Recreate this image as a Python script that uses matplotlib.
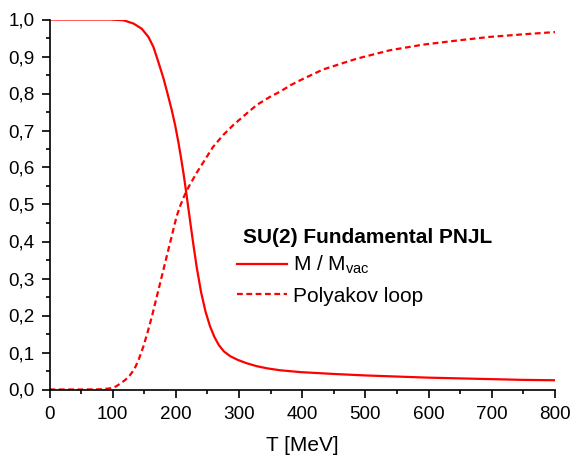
import matplotlib
matplotlib.use("Agg")
import matplotlib.pyplot as plt
from matplotlib.ticker import MultipleLocator, FuncFormatter

plt.rcParams['font.family'] = ['Liberation Sans', 'DejaVu Sans']
plt.rcParams['mathtext.fontset'] = 'custom'
plt.rcParams['mathtext.rm'] = 'Liberation Sans'
plt.rcParams['mathtext.it'] = 'Liberation Sans'

# Data
T_m = [0, 50, 96, 117, 133, 146, 156.5, 164.4, 172.3, 180.2, 186, 193.5, 199,
       204, 208, 212, 216, 220, 224, 228, 233, 240, 247, 254, 261, 268, 276,
       286, 298, 312, 328, 345, 365, 397, 450, 500, 550, 600, 650, 700, 750, 800]
M_m = [1.0, 1.0, 1.0, 0.998, 0.989, 0.975, 0.953, 0.926, 0.885, 0.842, 0.805,
       0.755, 0.713, 0.668, 0.628, 0.585, 0.537, 0.487, 0.437, 0.388, 0.33,
       0.262, 0.21, 0.171, 0.142, 0.12, 0.103, 0.09, 0.08, 0.071, 0.063, 0.057,
       0.052, 0.047, 0.042, 0.038, 0.035, 0.032, 0.030, 0.028, 0.026, 0.025]

T_p = [0, 50, 80, 96, 105, 112, 120, 127, 134, 141, 148.5, 155, 162, 175, 188,
       201, 207, 213, 220, 233, 249, 259, 275, 291, 312, 328, 349, 365, 381,
       397, 433, 486, 539, 591, 644, 697, 750, 800]
P_p = [0, 0, 0.0005, 0.003, 0.008, 0.016, 0.026, 0.038, 0.054, 0.08, 0.116,
       0.153, 0.197, 0.287, 0.377, 0.467, 0.497, 0.522, 0.547, 0.586, 0.629,
       0.656, 0.688, 0.715, 0.746, 0.769, 0.791, 0.805, 0.822, 0.836, 0.865,
       0.894, 0.917, 0.932, 0.943, 0.953, 0.960, 0.966]

legend_title = "SU(2) Fundamental PNJL"
label_m = r"M / M$_{\mathregular{vac}}$"
label_p = "Polyakov loop"

W, H = 574, 458
fig = plt.figure(figsize=(W / 100, H / 100), dpi=100)
ax = fig.add_axes([49.5 / W, (H - 389.5) / H, 505.5 / W, 370 / H])

ax.plot(T_m, M_m, color='#ff0000', lw=1.6, label=label_m,
        solid_joinstyle='round')
ax.plot(T_p, P_p, color='#ff0000', lw=1.6, ls=(0, (2.6, 1.6)), label=label_p,
        dash_joinstyle='round')

ax.set_xlim(0, 800)
ax.set_ylim(0, 1.0)
ax.xaxis.set_major_locator(MultipleLocator(100))
ax.xaxis.set_minor_locator(MultipleLocator(50))
ax.yaxis.set_major_locator(MultipleLocator(0.1))
ax.yaxis.set_minor_locator(MultipleLocator(0.05))
ax.yaxis.set_major_formatter(FuncFormatter(lambda v, p: f"{v:.1f}".replace('.', ',')))

for s in ['top', 'right']:
    ax.spines[s].set_visible(False)
for s in ['left', 'bottom']:
    ax.spines[s].set_linewidth(1.2)
ax.tick_params(which='major', direction='out', length=6, width=1.2, labelsize=13.6)
ax.tick_params(which='minor', direction='out', length=3, width=1.2)
ax.tick_params(axis='x', which='major', pad=6)
ax.tick_params(axis='y', which='major', pad=4.8)
ax.set_xlabel("T [MeV]", fontsize=15, labelpad=9)

fig.text(243 / W, (H - 243.3) / H, legend_title, fontsize=15, fontweight='bold',
         ha='left', va='baseline')
leg = ax.legend(loc='upper left', bbox_to_anchor=(237.3 / W, (H - 254) / H),
                bbox_transform=fig.transFigure, frameon=False, borderpad=0,
                borderaxespad=0, fontsize=15, handlelength=2.4,
                handletextpad=0.28, labelspacing=0.5)

fig.savefig("out.png", dpi=100)
